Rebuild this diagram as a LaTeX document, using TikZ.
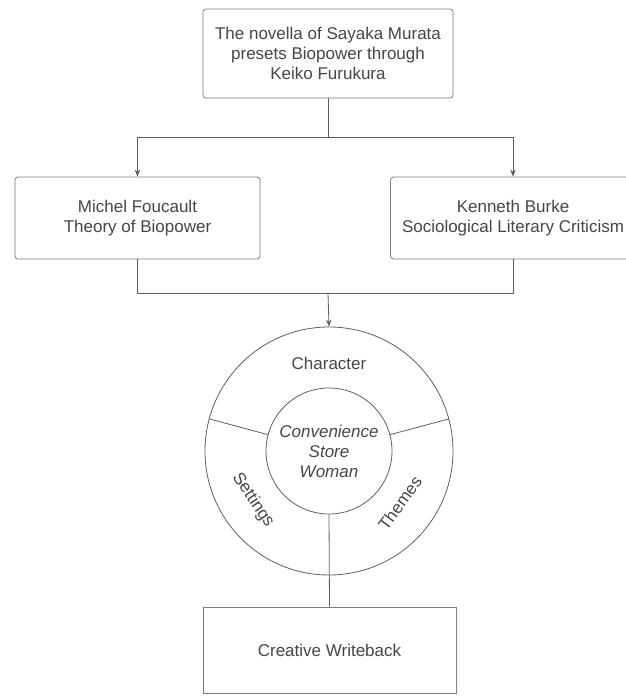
\documentclass[tikz,border=0pt]{standalone}
\usepackage{fontspec}
\setmainfont{Liberation Sans}
\usepackage{tikz}
\usetikzlibrary{arrows.meta}
\definecolor{inkgray}{RGB}{70, 70, 70}
\definecolor{linegray}{RGB}{95, 95, 95}
\definecolor{boxgray}{RGB}{125, 125, 125}

\tikzset{
  card/.style={draw=boxgray,line width=0.8pt,rounded corners=3pt,fill=white,align=center,inner sep=0pt,
    text=inkgray,font=\fontsize{17}{20}\selectfont},
  link/.style={draw=linegray,line width=0.8pt},
  flow/.style={link,-{Stealth[length=7pt,width=5.5pt]}},
  ringtext/.style={text=inkgray,font=\fontsize{17}{20}\selectfont}
}

\begin{document}
\begin{tikzpicture}[x=1pt,y=-1pt]
            \useasboundingbox (0,0) rectangle (626,696);

            % boxes
            \node[card,minimum width=250pt,minimum height=89pt] (novella) at (328,53.5)
              {The novella of Sayaka Murata\\presets Biopower through\\Keiko Furukura};
            \node[card,minimum width=245pt,minimum height=82pt] (foucault) at (137.5,218)
              {Michel Foucault\\Theory of Biopower};
            \node[card,minimum width=245pt,minimum height=82pt] (burke) at (513,218)
              {Kenneth Burke\\Sociological Literary Criticism};
            \node[card,rounded corners=0pt,minimum width=253pt,minimum height=86pt] (writeback) at (329.5,650)
              {Creative Writeback};

            % wheel
            \node[circle,draw=linegray,line width=0.8pt,minimum size=248pt,inner sep=0pt] (ring) at (329,451) {};
            \node[circle,draw=linegray,line width=0.8pt,minimum size=126pt,inner sep=0pt,align=center,
              ringtext,font=\fontsize{17}{20}\selectfont\itshape] (core) at (329,451)
              {Convenience\\Store\\Woman};
            \node[ringtext] (character) at (329,363) {Character};
            \node[ringtext,rotate=-56] (settings) at (253,500) {Settings};
            \node[ringtext,rotate=54] (themes) at (400,503) {Themes};

            \draw[link] (core.165) -- (ring.165);
            \draw[link] (core.15) -- (ring.15);
            \draw[link] (core.south) -- (writeback.north);

            % connectors
            \coordinate (split) at (328,137);
            \coordinate (merge) at (328,293);
            \draw[link] (novella.south) -- (split);
            \draw[flow] (split) -| (foucault.north);
            \draw[flow] (split) -| (burke.north);
            \draw[link] (foucault.south) |- (merge);
            \draw[link] (burke.south) |- (merge);
            \draw[flow] (merge) -- (ring.north);
        \end{tikzpicture}
\end{document}
